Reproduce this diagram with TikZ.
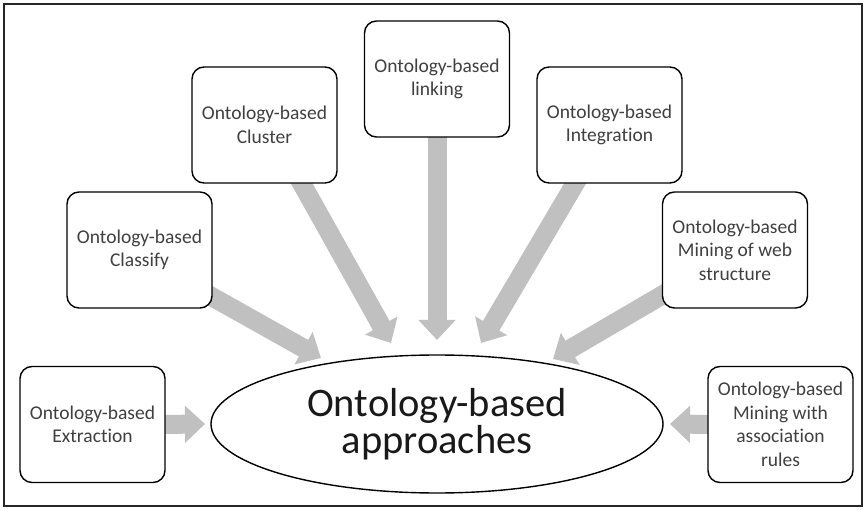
\documentclass[tikz,border=0pt]{standalone}
\usepackage{fontspec}
\setmainfont{Carlito}[Ligatures=CommonOff]
\usetikzlibrary{shapes.geometric,arrows.meta,calc}
\pgfdeclarelayer{bg}
\pgfsetlayers{bg,main}
\definecolor{arrowgray}{HTML}{C0C0C0}
\definecolor{txtgray}{HTML}{404040}
\tikzset{
  box/.style={draw=black, line width=1.4pt, rounded corners=12pt, fill=white,
    minimum width=145pt, minimum height=116pt, inner sep=0pt, align=center,
    text=txtgray, font=\fontsize{19.5pt}{23.5pt}\selectfont},
  bigarrow/.style={draw=arrowgray, line width=19pt,
    -{Triangle[length=20pt,width=36pt]}},
}
\begin{document}
\begin{tikzpicture}[x=1pt,y=-1pt]
\useasboundingbox (0,0) rectangle (867,510);
\draw[line width=1.5pt, black!85] (4,4) rectangle (862,506);

\node[draw=black, line width=1.4pt, fill=white, ellipse, minimum width=452pt,
  minimum height=138pt, inner sep=0pt, align=center, text=black!90,
  font=\fontsize{40.5pt}{37pt}\selectfont] (main) at (437,424)
  {Ontology-based\\approaches};

\node[box] (linking) at (437,79) {Ontology-based\\linking};
\node[box] (cluster) at (264.5,125) {Ontology-based\\Cluster};
\node[box] (integ) at (609.5,125) {Ontology-based\\Integration};
\node[box] (classify) at (139.5,250) {Ontology-based\\Classify};
\node[box] (web) at (735,250) {Ontology-based\\Mining of web\\structure};
\node[box] (extract) at (92.5,424.5) {Ontology-based\\Extraction};
\node[box] (assoc) at (780.5,424.5) {Ontology-based\\Mining with\\association\\rules};

\coordinate (tlink) at (437,340);
\coordinate (tclus) at (391,343);
\coordinate (tinteg) at (481,343);
\coordinate (tclass) at (321,358);
\coordinate (tweb) at (553,359);
\coordinate (text) at (205,424);
\coordinate (tassoc) at (670,424);

\begin{pgfonlayer}{bg}
\draw[bigarrow] ($(linking.south)+(0,-6)$) -- (tlink);
\draw[bigarrow] ($(cluster.south)+(34,-6)$) -- (tclus);
\draw[bigarrow] ($(integ.south)+(-31,-6)$) -- (tinteg);
\draw[bigarrow] ($(classify.south east)+(-8,-16)$) -- (tclass);
\draw[bigarrow] ($(web.south west)+(8,-18)$) -- (tweb);
\draw[bigarrow] ($(extract.east)+(-6,0)$) -- (text);
\draw[bigarrow] ($(assoc.west)+(6,0)$) -- (tassoc);
\end{pgfonlayer}
\end{tikzpicture}
\end{document}
